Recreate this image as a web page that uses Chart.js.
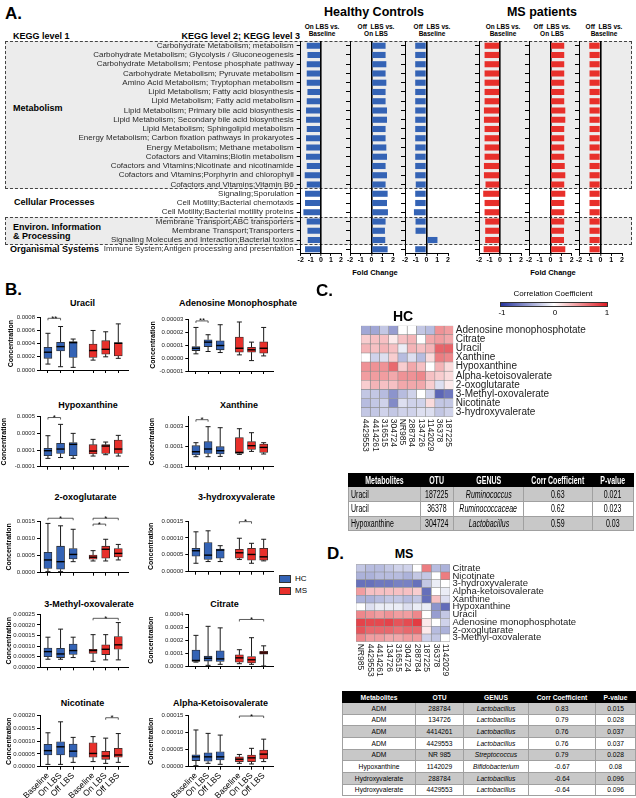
<!DOCTYPE html>
<html>
<head>
    <title>LBS: pathways, metabolites and correlations</title>
    <script src="https://cdn.jsdelivr.net/npm/chart.js"></script>
    <style>
        body { margin: 0; background: #fff; }
        #fig { position: relative; width: 636px; height: 798px; overflow: hidden;
               font-family: 'Liberation Sans', Arial, Helvetica, sans-serif; color: #000; }
        #fig > * { position: absolute; }
        .t { white-space: nowrap; line-height: 1; }
        .band { background: #ececec; border: 1px dashed #444; box-sizing: border-box; }
        .key { width: 11px; height: 6px; border: 1px solid #333; }
        .tbl { border-collapse: collapse; table-layout: fixed; }
        .tbl th, .tbl td { border: 1px solid #a0a0a0; padding: 0 2px; text-align: center; white-space: nowrap; overflow: hidden; }
        .tbl th { background: #000; color: #fff; font-weight: bold; border-color: #000; }
        .tbl tr.g td { background: #c8c8c8; }
        .tbl td.i { font-style: italic; }
        .tbl td.l { text-align: left; }
        #tblC { font-size: 10px; }
        #tblC span { display: inline-block; transform: scaleX(0.7); transform-origin: center; margin: 0 -25px; }
        #tblC td.l span { transform-origin: left; margin: 0 -25px 0 0; }
        #tblD { font-size: 6.7px; }
    </style>
</head>
<body>
<div id="fig"></div>
<script>
// ---------- panel A: KEGG fold changes ----------
const pathways = [
    'Carbohydrate Metabolism; metabolism',
    'Carbohydrate Metabolism; Glycolysis / Gluconeogenesis',
    'Carbohydrate Metabolism; Pentose phosphate pathway',
    'Carbohydrate Metabolism; Pyruvate metabolism',
    'Amino Acid Metabolism; Tryptophan metabolism',
    'Lipid Metabolism; Fatty acid biosynthesis',
    'Lipid Metabolism; Fatty acid metabolism',
    'Lipid Metabolism; Primary bile acid biosynthesis',
    'Lipid Metabolism; Secondary bile acid biosynthesis',
    'Lipid Metabolism; Sphingolipid metabolism',
    'Energy Metabolism; Carbon fixation pathways in prokaryotes',
    'Energy Metabolism; Methane metabolism',
    'Cofactors and Vitamins;Biotin metabolism',
    'Cofactors and Vitamins;Nicotinate and nicotinamide',
    'Cofactors and Vitamins;Porphyrin and chlorophyll',
    'Cofactors and Vitamins;Vitamin B6',
    'Signaling;Sporulation',
    'Cell Motility;Bacterial chemotaxis',
    'Cell Motility;Bacterial motility proteins',
    'Membrane Transport;ABC transporters',
    'Membrane Transport;Transporters',
    'Signaling Molecules and Interaction;Bacterial toxins',
    'Immune System;Antigen processing and presentation'
];
const hcOnVsBase  = [-1.40,-1.33,-1.40,-1.40,-1.40,-1.33,-1.40,-1.47,-1.47,-1.40,-1.47,-1.45,-1.47,-1.40,-1.60,-1.40,-1.57,-1.57,-1.73,-1.40,-1.33,-1.30,-1.57];
const hcOffVsOn   = [1.31,1.31,1.38,1.31,1.38,1.31,1.31,1.44,1.44,1.31,1.31,1.38,1.44,1.31,1.44,1.31,1.50,1.44,1.53,1.31,1.25,1.28,1.50];
const hcOffVsBase = [-1.05,-1.05,-1.05,-1.05,-1.05,-1.05,-1.05,-1.05,-1.05,-1.05,-1.05,-1.05,-1.05,-1.05,-1.05,-1.00,-1.05,-1.05,-1.17,-1.02,-1.02,1.02,-1.05];
const msOnVsBase  = [-1.47,-1.47,-1.47,-1.47,-1.47,-1.47,-1.47,-1.53,-1.53,-1.47,-1.47,-1.47,-1.47,-1.53,-1.53,-1.38,-1.60,-1.47,-1.47,-1.41,-1.41,-1.41,-1.56];
const msOffVsOn   = [1.30,1.30,1.30,1.30,1.30,1.30,1.30,1.40,1.40,1.30,1.30,1.30,1.30,1.35,1.40,1.30,1.40,1.30,1.30,1.30,1.28,1.28,1.40];
const msOffVsBase = [-1.05,-1.02,-1.02,-1.02,-1.02,-1.02,-1.02,-1.02,-1.02,-1.02,-1.02,-1.02,-1.02,-1.02,-1.02,-1.02,-1.02,-1.02,-1.02,-1.02,-1.02,-1.02,-1.02];
const foldTicks = [-2, -1, 0, 1, 2];

// ---------- panel B: metabolite box plots [min, q1, median, q3, max] ----------
const groupLabels = ['Baseline', 'On LBS', 'Off LBS', 'Baseline', 'On LBS', 'Off LBS'];
const uracil = [[0.00009,0.000177,0.00027,0.000344,0.000557],[0.00005,0.00029,0.000355,0.00042,0.00066],[0.00004,0.00019,0.000415,0.00043,0.00047],
                [0.00015,0.00019,0.000295,0.000395,0.0006],[0.0002,0.00024,0.000314,0.000445,0.00058],[0.000177,0.000213,0.000405,0.000415,0.0007]];
const amp = [[0.0000032,0.0000057,0.0000075,0.0000088,0.0000235],[0.000005,0.0000088,0.0000122,0.000014,0.0000179],[0.0000042,0.0000063,0.0000096,0.0000132,0.0000256],
             [0.0000024,0.0000045,0.0000075,0.0000161,0.0000277],[-0.000002,0.0000045,0.0000063,0.0000083,0.0000122],[0.0000016,0.0000037,0.0000075,0.0000125,0.0000235]];
const hypoxanthine = [[0,0.000032,0.000092,0.00012,0.000272],[0.00001,0.00006,0.000112,0.00018,0.000408],[0,0.000032,0.000168,0.00019,0.0003],
                      [0.000028,0.000052,0.000088,0.000164,0.000228],[0.000044,0.00006,0.000148,0.000164,0.000196],[0.000028,0.00006,0.000112,0.00022,0.000276]];
const xanthine = [[0,0.000017,0.00005,0.00011,0.00014],[0,0.000033,0.000077,0.00015,0.0003],[0.000003,0.000027,0.00006,0.0001,0.00029],
                  [0.000023,0.000033,0.000043,0.00019,0.00028],[0.000053,0.000073,0.00011,0.00015,0.00024],[0.000027,0.000043,0.000093,0.000127,0.00014]];
const oxoglutarate = [[0.00003,0.000126,0.00037,0.00059,0.00143],[0.00003,0.0001,0.00032,0.00077,0.00136],[0.00032,0.0004,0.00053,0.0007,0.00126],
                      [0.00034,0.00039,0.00045,0.00051,0.00064],[0.00034,0.00042,0.00068,0.00077,0.00097],[0.00037,0.00046,0.00056,0.0007,0.00082]];
const hydroxyvalerate = [[0.000025,0.000046,0.000062,0.000069,0.000118],[0.00003,0.000036,0.000049,0.000086,0.000121],[0.00003,0.00004,0.000064,0.000067,0.000077],
                         [0.000036,0.00004,0.000056,0.000066,0.000099],[0.000025,0.000034,0.000051,0.000069,0.000084],[0.000032,0.000034,0.000044,0.000069,0.000096]];
const methylOxovalerate = [[0.000038,0.00005,0.000074,0.000091,0.000142],[0.000038,0.000046,0.000063,0.00009,0.00018],[0.000046,0.000061,0.000079,0.00011,0.000142],
                           [0.000028,0.000066,0.000079,0.000085,0.000154],[0.000035,0.00006,0.000085,0.000106,0.000154],[0.000035,0.000085,0.000106,0.000145,0.000211]];
const citrate = [[0.00003,0.000035,0.000043,0.000124,0.000237],[0.000005,0.000038,0.00006,0.000076,0.000307],[0.000013,0.000035,0.000055,0.000118,0.000295],
                 [0.000018,0.00003,0.000063,0.000086,0.000126],[0.000013,0.000023,0.000048,0.000073,0.000219],[0,0.000091,0.000101,0.000113,0.000156]];
const nicotinate = [[0.000009,0.000046,0.000063,0.000088,0.000133],[0.000009,0.000046,0.000078,0.000098,0.000176],[0.000017,0.000037,0.000061,0.000089,0.000115],
                    [0.00002,0.000037,0.000052,0.000094,0.000118],[0.000013,0.000029,0.000042,0.00006,0.000112],[0.000017,0.000037,0.000046,0.000072,0.00013]];
const ketoisovalerate = [[0.000003,0.000018,0.000029,0.000035,0.000108],[0.00001,0.000016,0.000029,0.000041,0.000098],[0.000007,0.00002,0.000029,0.000044,0.000093],
                         [0.00001,0.000015,0.000022,0.000029,0.000036],[0.000008,0.000015,0.000026,0.000034,0.000054],[0.000015,0.000023,0.000037,0.000049,0.000081]];

const uracilTicks = [0, 0.0002, 0.0004, 0.0006, 0.0008];
const ampTicks = [-0.00001, 0, 0.00001, 0.00002, 0.00003];
const hypoxanthineTicks = [-0.0001, 0, 0.0001, 0.0002, 0.0003, 0.0004, 0.0005];
const xanthineTicks = [-0.0001, 0, 0.0001, 0.0002, 0.0003, 0.0004];
const oxoglutarateTicks = [0, 0.0005, 0.0010, 0.0015];
const hydroxyvalerateTicks = [0, 0.00005, 0.00010, 0.00015];
const methylOxovalerateTicks = [0, 0.00005, 0.00010, 0.00015, 0.00020, 0.00025];
const citrateTicks = [0, 0.0001, 0.0002, 0.0003, 0.0004];
const nicotinateTicks = [0, 0.00005, 0.00010, 0.00015, 0.00020];
const ketoisovalerateTicks = [0, 0.00005, 0.00010, 0.00015];

// significance brackets: [from group, to group, value, label]
const uracilSig = [[0, 1, 0.000785, '**']];
const ampSig = [[0, 1, 0.0000285, '**']];
const hypoxanthineSig = [[0, 1, 0.00049, '*']];
const xanthineSig = [[0, 1, 0.00037, '*']];
const oxoglutarateSig = [[0, 2, 0.00158, '*'], [3, 5, 0.00158, '*'], [3, 4, 0.00141, '*']];
const hydroxyvalerateSig = [[3, 4, 0.000148, '*']];
const methylOxovalerateSig = [[3, 5, 0.000231, '*']];
const citrateSig = [[3, 5, 0.00036, '*']];
const nicotinateSig = [[4, 5, 0.000192, '*']];
const ketoisovalerateSig = [[3, 5, 0.000149, '*']];

// ---------- panels C / D: correlation heatmaps ----------
const hcOtus = ['4429553','4414261','316515','304724','NR985','288784','134726','1142029','36378','187225'];
const hcMetabolites = ['Adenosine monophosphotate','Citrate','Uracil','Xanthine','Hypoxanthine','Alpha-ketoisovalerate','2-oxoglutarate','3-Methyl-oxovalerate','Nicotinate','3-hydroxyvalerate'];
const hcCorr = [
    [-0.35,-0.35,-0.2,-0.4,0.0,0.0,-0.2,-0.25,0.4,0.35],
    [0.15,0.2,0.2,0.05,0.2,0.25,0.0,0.3,0.35,0.3],
    [0.25,0.2,0.25,0.2,-0.05,0.25,0.2,0.25,0.62,0.63],
    [0.0,-0.15,-0.1,0.15,-0.25,-0.1,-0.25,0.1,0.5,0.45],
    [0.4,0.4,0.4,0.59,0.15,0.3,0.2,0.0,0.25,0.1],
    [0.35,0.35,0.35,0.3,0.4,0.4,0.45,0.2,0.15,0.1],
    [0.15,0.25,0.2,0.2,0.3,0.3,0.3,0.15,-0.1,0.05],
    [-0.2,-0.2,-0.25,-0.45,-0.25,-0.15,0.0,-0.15,-0.7,-0.6],
    [-0.25,-0.2,-0.15,-0.5,-0.1,-0.15,-0.15,0.1,-0.2,-0.2],
    [-0.2,-0.2,-0.15,-0.2,-0.15,-0.15,-0.1,-0.1,-0.2,-0.15]
];
const msOtus = ['NR985','4429553','4414261','134726','316515','304724','288784','187225','36378','1142029'];
const msMetabolites = ['Citrate','Nicotinate','3-hydroxyvalerate','Alpha-ketoisovalerate','Xanthine','Hypoxanthine','Uracil','Adenosine monophosphotate','2-oxoglutarate','3-Methyl-oxovalerate'];
const msCorr = [
    [-0.2,-0.25,-0.25,-0.2,-0.15,-0.15,0.0,0.5,-0.25,-0.3],
    [-0.3,-0.3,-0.25,-0.25,-0.25,-0.3,-0.2,-0.2,0.0,0.5],
    [-0.64,-0.64,-0.6,-0.6,-0.55,-0.55,-0.64,-0.2,-0.05,0.0],
    [0.35,0.2,0.2,0.2,0.2,0.2,0.15,-0.65,0.0,-0.05],
    [-0.3,-0.3,-0.25,-0.2,-0.2,-0.25,-0.2,-0.65,0.2,-0.1],
    [0.0,-0.1,-0.05,-0.05,-0.05,-0.1,-0.05,-0.05,-0.45,-0.67],
    [0.45,0.4,0.35,0.4,0.35,0.35,0.45,0.0,-0.4,-0.2],
    [0.79,0.76,0.76,0.79,0.7,0.75,0.83,0.05,0.0,-0.15],
    [0.7,0.6,0.6,0.6,0.55,0.6,0.6,0.05,-0.25,-0.3],
    [0.45,0.35,0.35,0.3,0.3,0.35,0.35,-0.15,-0.2,0.0]
];

const tableHeader = ['Metabolites', 'OTU', 'GENUS', 'Corr Coefficient', 'P-value'];
const hcTableRows = [
    ['Uracil', '187225', 'Ruminococcus', '0.63', '0.021'],
    ['Uracil', '36378', 'Ruminococcaceae', '0.62', '0.023'],
    ['Hypoxanthine', '304724', 'Lactobacillus', '0.59', '0.03']
];
const msTableRows = [
    ['ADM', '288784', 'Lactobacillus', '0.83', '0.015'],
    ['ADM', '134726', 'Lactobacillus', '0.79', '0.028'],
    ['ADM', '4414261', 'Lactobacillus', '0.76', '0.037'],
    ['ADM', '4429553', 'Lactobacillus', '0.76', '0.037'],
    ['ADM', 'NR 985', 'Streptococcus', '0.79', '0.028'],
    ['Hypoxanthine', '1142029', 'Bifidobacterium', '-0.67', '0.08'],
    ['Hydroxyvalerate', '288784', 'Lactobacillus', '-0.64', '0.096'],
    ['Hydroxyvalerate', '4429553', 'Lactobacillus', '-0.64', '0.096']
];

// ======================================================================
Chart.defaults.animation = false;
Chart.defaults.responsive = false;
Chart.defaults.font.family = "'Liberation Sans', Arial, Helvetica, sans-serif";
Chart.defaults.color = '#000';
Chart.defaults.plugins.legend.display = false;
Chart.defaults.plugins.tooltip.enabled = false;

const FONT = "'Liberation Sans', Arial, Helvetica, sans-serif";
const hcBlue = '#3463b5';
const msRed = '#e8302b';
const fig = document.getElementById('fig');

function addText(str, x, y, align, css) {
    const d = document.createElement('div');
    d.className = 't';
    d.textContent = str;
    const tx = align === 'c' ? '-50%' : (align === 'r' ? '-100%' : '0');
    d.style.cssText = `left:${x}px;top:${y}px;transform:translate(${tx},-50%);` + (css || '');
    fig.appendChild(d);
    return d;
}

function addBox(cls, x, y, w, h, css) {
    const d = document.createElement('div');
    d.className = cls;
    d.style.cssText = `left:${x}px;top:${y}px;width:${w}px;height:${h}px;` + (css || '');
    fig.appendChild(d);
    return d;
}

function addCanvas(x, y, w, h) {
    const c = document.createElement('canvas');
    c.width = w;
    c.height = h;
    c.style.left = x + 'px';
    c.style.top = y + 'px';
    fig.appendChild(c);
    return c;
}

// ---------------- panel A ----------------
const A_TOP = 41.1, A_BOTTOM = 253.9;
addBox('band', 5, A_TOP, 627, 189.3 - A_TOP);
addBox('band', 5, 216.8, 627, 244.7 - 216.8);

addText('A.', 5, 12.5, 'l', 'font-size:17px;font-weight:bold;');
addText('KEGG level 1', 13, 36, 'l', 'font-size:9px;font-weight:bold;');
addText('KEGG level 2; KEGG level 3', 300, 36, 'r', 'font-size:9px;font-weight:bold;');
addText('Metabolism', 13, 108, 'l', 'font-size:9px;font-weight:bold;');
addText('Cellular Processes', 14, 202, 'l', 'font-size:9px;font-weight:bold;');
addText('Environ. Information', 13, 226.5, 'l', 'font-size:9px;font-weight:bold;');
addText('& Processing', 13, 236, 'l', 'font-size:9px;font-weight:bold;');
addText('Organismal Systems', 10, 249.3, 'l', 'font-size:9px;font-weight:bold;');
addText('Healthy Controls', 374, 12.3, 'c', 'font-size:12.5px;font-weight:bold;');
addText('MS patients', 542, 12.3, 'c', 'font-size:12.5px;font-weight:bold;');
const colHeads = [[322, 'On LBS vs.', 'Baseline'], [376, 'Off  LBS vs.', 'On LBS'], [432, 'Off  LBS vs.', 'Baseline'],
                  [503, 'On LBS vs.', 'Baseline'], [552, 'Off  LBS vs.', 'On LBS'], [604, 'Off  LBS vs.', 'Baseline']];
colHeads.forEach(([x, l1, l2]) => {
    addText(l1, x, 26.7, 'c', 'font-size:6.5px;font-weight:bold;white-space:pre;');
    addText(l2, x, 34.3, 'c', 'font-size:6.5px;font-weight:bold;');
});
addText('Fold Change', 375, 273, 'c', 'font-size:7.5px;font-weight:bold;');
addText('Fold Change', 553, 273, 'c', 'font-size:7.5px;font-weight:bold;');

function foldChart(x0, x1, values, color, showLabels) {
    const top = 36, height = 232;
    const left = showLabels ? 0 : Math.floor(x0 - 10);
    const width = Math.ceil(x1 + 6 - left);
    const cv = addCanvas(left, top, width, height);
    new Chart(cv, {
        type: 'bar',
        data: {
            labels: pathways,
            datasets: [{ data: values, backgroundColor: color, barPercentage: 0.66, categoryPercentage: 1 }]
        },
        options: {
            indexAxis: 'y',
            layout: { padding: { left: 0, top: A_TOP - top, right: left + width - x1, bottom: 0 } },
            scales: {
                y: {
                    afterFit: s => { s.width = x0 - left; s.paddingTop = 0; s.paddingBottom = 0; },
                    ticks: { display: showLabels, autoSkip: false, font: { size: 8 }, color: '#2a2a2a', padding: 3 },
                    grid: { offset: false, drawOnChartArea: false, tickLength: 4, tickColor: '#000' },
                    border: { color: '#000' }
                },
                x: {
                    min: -2, max: 2,
                    afterBuildTicks: s => { s.ticks = foldTicks.map(v => ({ value: v })); },
                    afterFit: s => { s.height = top + height - A_BOTTOM; s.paddingLeft = 0; s.paddingRight = 0; },
                    ticks: { autoSkip: false, maxRotation: 0, minRotation: 0, font: { size: 7, weight: 'bold' }, padding: 0 },
                    grid: {
                        color: c => (c.tick && c.tick.value === 0) ? '#000' : 'rgba(0,0,0,0)',
                        lineWidth: c => (c.tick && c.tick.value === 0) ? 1.6 : 1,
                        tickColor: '#000', tickWidth: 1, tickLength: 2
                    },
                    border: { color: '#000' }
                }
            }
        }
    });
}

foldChart(300.7, 341, hcOnVsBase, hcBlue, true);
foldChart(350, 393, hcOffVsOn, hcBlue, false);
foldChart(405, 448, hcOffVsBase, hcBlue, false);
foldChart(479, 521, msOnVsBase, msRed, false);
foldChart(529, 571.7, msOffVsOn, msRed, false);
foldChart(579, 622, msOffVsBase, msRed, false);

// ---------------- panel B ----------------
addText('B.', 5, 288.5, 'l', 'font-size:17px;font-weight:bold;');
const boxPositions = [1, 2, 3, 4.58, 5.58, 6.58];
const boxColors = [hcBlue, hcBlue, hcBlue, msRed, msRed, msRed];

function boxPlugin(stats, sig) {
    const line = (ctx, a, b, c, d) => { ctx.beginPath(); ctx.moveTo(a, b); ctx.lineTo(c, d); ctx.stroke(); };
    return {
        id: 'boxWhiskers',
        beforeDatasetsDraw(chart) {
            const { ctx, scales: { x, y } } = chart;
            ctx.save();
            ctx.strokeStyle = '#1a1a1a';
            ctx.lineWidth = 1;
            stats.forEach((s, i) => {
                const px = x.getPixelForValue(boxPositions[i]);
                const [mn, q1, , q3, mx] = s.map(v => y.getPixelForValue(v));
                line(ctx, px, q1, px, mn);
                line(ctx, px, q3, px, mx);
                line(ctx, px - 2.5, mn, px + 2.5, mn);
                line(ctx, px - 2.5, mx, px + 2.5, mx);
            });
            ctx.restore();
        },
        afterDatasetsDraw(chart) {
            const { ctx, scales: { x, y } } = chart;
            ctx.save();
            ctx.strokeStyle = '#000';
            ctx.lineWidth = 1.4;
            stats.forEach((s, i) => {
                const px = x.getPixelForValue(boxPositions[i]);
                const md = y.getPixelForValue(s[2]);
                line(ctx, px - 4, md, px + 4, md);
            });
            ctx.lineWidth = 0.8;
            ctx.strokeStyle = '#333';
            ctx.fillStyle = '#000';
            ctx.font = '8px ' + FONT;
            ctx.textAlign = 'center';
            ctx.textBaseline = 'alphabetic';
            sig.forEach(([a, b, v, label]) => {
                const xa = x.getPixelForValue(boxPositions[a]);
                const xb = x.getPixelForValue(boxPositions[b]);
                const py = y.getPixelForValue(v);
                ctx.beginPath();
                ctx.moveTo(xa, py + 2); ctx.lineTo(xa, py); ctx.lineTo(xb, py); ctx.lineTo(xb, py + 2);
                ctx.stroke();
                ctx.fillText(label, (xa + xb) / 2, py + 2.5);
            });
            ctx.restore();
        }
    };
}

function boxChart(p) {
    const l = p.col === 0 ? 40 : 188.3;
    const r = p.col === 0 ? 128 : 273;
    const cl = Math.max(0, Math.floor(p.yt - 4.2));
    const ct = Math.floor(p.top - 10);
    const cw = Math.ceil(r + 6 - cl);
    const ch = Math.ceil(p.bottom + (p.last ? 32 : 6) - ct);
    addText(p.name, p.tx, p.ty, 'c', 'font-size:9px;font-weight:bold;');
    const cv = addCanvas(cl, ct, cw, ch);
    new Chart(cv, {
        type: 'bar',
        data: {
            datasets: [{
                data: p.stats.map((s, i) => ({ x: boxPositions[i], y: [s[1], s[3]] })),
                backgroundColor: boxColors,
                borderColor: '#2a2a2a',
                borderWidth: 0.8,
                borderSkipped: false,
                barThickness: 8
            }]
        },
        options: {
            layout: { padding: { left: 0, top: p.top - ct, right: cl + cw - r, bottom: 0 } },
            scales: {
                x: {
                    type: 'linear', offset: false,
                    min: 0.37, max: 7.35,
                    afterBuildTicks: s => { s.ticks = boxPositions.map(v => ({ value: v })); },
                    afterFit: s => { s.height = ct + ch - p.bottom; s.paddingLeft = 0; s.paddingRight = 0; },
                    ticks: {
                        callback: (v, i) => p.last ? groupLabels[i] : '',
                        minRotation: 45, maxRotation: 45, autoSkip: false,
                        font: { size: 8.5 }, padding: 1
                    },
                    grid: { offset: false, drawOnChartArea: false, tickLength: 3, tickColor: '#000' },
                    border: { color: '#000' }
                },
                y: {
                    min: p.ticks[0], max: p.ticks[p.ticks.length - 1],
                    afterBuildTicks: s => { s.ticks = p.ticks.map(v => ({ value: v })); },
                    afterFit: s => { s.width = l - cl; s.paddingTop = 0; s.paddingBottom = 0; },
                    ticks: { callback: v => v.toFixed(p.dec), font: { size: 6 }, color: '#222', padding: 2 },
                    grid: { drawOnChartArea: false, tickLength: 3, tickColor: '#000' },
                    border: { color: '#000' },
                    title: { display: true, text: 'Concentration', font: { size: 7, weight: 'bold' }, padding: 0 }
                }
            }
        },
        plugins: [boxPlugin(p.stats, p.sig)]
    });
}

const boxCharts = [
    { name: 'Uracil', stats: uracil, ticks: uracilTicks, dec: 4, sig: uracilSig, col: 0, top: 317.3, bottom: 370, tx: 82.5, ty: 303, yt: 11.7 },
    { name: 'Adenosine Monophosphate', stats: amp, ticks: ampTicks, dec: 5, sig: ampSig, col: 1, top: 319, bottom: 371, tx: 238, ty: 303, yt: 153.3 },
    { name: 'Hypoxanthine', stats: hypoxanthine, ticks: hypoxanthineTicks, dec: 4, sig: hypoxanthineSig, col: 0, top: 416.7, bottom: 466.7, tx: 88, ty: 405, yt: 4.5 },
    { name: 'Xanthine', stats: xanthine, ticks: xanthineTicks, dec: 4, sig: xanthineSig, col: 1, top: 416.7, bottom: 466.7, tx: 239, ty: 405, yt: 153 },
    { name: '2-oxoglutarate', stats: oxoglutarate, ticks: oxoglutarateTicks, dec: 4, sig: oxoglutarateSig, col: 0, top: 521, bottom: 572.7, tx: 85.5, ty: 497.3, yt: 10 },
    { name: '3-hydroxyvalerate', stats: hydroxyvalerate, ticks: hydroxyvalerateTicks, dec: 5, sig: hydroxyvalerateSig, col: 1, top: 521, bottom: 571.7, tx: 236.5, ty: 497.3, yt: 151.7 },
    { name: '3-Methyl-oxovalerate', stats: methylOxovalerate, ticks: methylOxovalerateTicks, dec: 5, sig: methylOxovalerateSig, col: 0, top: 614.3, bottom: 667.3, tx: 89, ty: 604, yt: 10 },
    { name: 'Citrate', stats: citrate, ticks: citrateTicks, dec: 4, sig: citrateSig, col: 1, top: 614.3, bottom: 666, tx: 224.5, ty: 604, yt: 151.7 },
    { name: 'Nicotinate', stats: nicotinate, ticks: nicotinateTicks, dec: 5, sig: nicotinateSig, col: 0, top: 715.7, bottom: 766.7, tx: 82.5, ty: 703.3, yt: 10, last: true },
    { name: 'Alpha-Ketoisovalerate', stats: ketoisovalerate, ticks: ketoisovalerateTicks, dec: 5, sig: ketoisovalerateSig, col: 1, top: 715.7, bottom: 766.7, tx: 220.5, ty: 703.3, yt: 151.7, last: true }
];
boxCharts.forEach(boxChart);

// legend for panel B
addBox('key', 279, 575, 10, 6, 'background:' + hcBlue + ';');
addText('HC', 295, 579, 'l', 'font-size:8px;');
addBox('key', 279, 587, 10, 6, 'background:' + msRed + ';');
addText('MS', 295, 591, 'l', 'font-size:8px;');

// ---------------- panels C and D ----------------
function corrColor(v) {
    const lo = [38, 52, 158], mid = [255, 255, 255], hi = [222, 28, 36];
    const end = v < 0 ? lo : hi;
    const t = Math.pow(Math.min(1, Math.abs(v)), 0.8);
    const c = mid.map((m, k) => Math.round(m + (end[k] - m) * t));
    return `rgb(${c.join(',')})`;
}

function colLabelPlugin(cols) {
    return {
        id: 'colLabels',
        afterDraw(chart) {
            const { ctx, scales: { x }, chartArea } = chart;
            ctx.save();
            ctx.font = '8.5px ' + FONT;
            ctx.fillStyle = '#222';
            ctx.textAlign = 'left';
            ctx.textBaseline = 'middle';
            cols.forEach((c, j) => {
                ctx.save();
                ctx.translate(x.getPixelForValue(j + 0.5), chartArea.bottom + 2);
                ctx.rotate(Math.PI / 2);
                ctx.fillText(c, 0, 0);
                ctx.restore();
            });
            ctx.restore();
        }
    };
}

function heatmap(area, cv, rows, cols, values, labelSize) {
    new Chart(cv, {
        type: 'bar',
        data: {
            labels: rows,
            datasets: cols.map((c, j) => ({
                label: c,
                data: rows.map(() => [j, j + 1]),
                backgroundColor: rows.map((r, i) => corrColor(values[i][j])),
                borderColor: '#8c8c8c',
                borderWidth: 0.6,
                borderSkipped: false,
                barPercentage: 1,
                categoryPercentage: 1,
                grouped: false
            }))
        },
        options: {
            indexAxis: 'y',
            layout: { padding: { left: area.l - area.cl, top: area.t - area.ct, right: 0, bottom: 0 } },
            scales: {
                x: {
                    min: 0, max: cols.length,
                    afterFit: s => { s.height = area.ct + area.ch - area.b; s.paddingLeft = 0; s.paddingRight = 0; },
                    ticks: { display: false },
                    grid: { display: false, drawTicks: false },
                    border: { display: false }
                },
                y: {
                    position: 'right',
                    afterFit: s => { s.width = area.cl + area.cw - area.r; s.paddingTop = 0; s.paddingBottom = 0; },
                    ticks: { autoSkip: false, font: { size: labelSize }, color: '#222', padding: 2.5 },
                    grid: { display: false, drawTicks: false },
                    border: { display: false }
                }
            }
        },
        plugins: [colLabelPlugin(cols)]
    });
}

addText('C.', 316, 290, 'l', 'font-size:17px;font-weight:bold;');
addText('Correlation Coefficient', 553, 294, 'c', 'font-size:8px;');
addBox('', 500, 301.5, 108, 5, 'border:1px solid #333;box-sizing:border-box;background:linear-gradient(to right, rgb(38,52,158), #fff 50%, rgb(222,28,36));');
addText('-1', 502, 313, 'c', 'font-size:8px;');
addText('0', 555, 313, 'c', 'font-size:8px;');
addText('1', 607, 313, 'c', 'font-size:8px;');
addText('HC', 403, 315.5, 'c', 'font-size:14px;font-weight:bold;');

const hcArea = { cl: 355, ct: 320, cw: 281, ch: 140, l: 361, r: 453.3, t: 325.7, b: 416.7 };
heatmap(hcArea, addCanvas(hcArea.cl, hcArea.ct, hcArea.cw, hcArea.ch), hcMetabolites, hcOtus, hcCorr, 10);

addText('D.', 327, 552.5, 'l', 'font-size:17px;font-weight:bold;');
addText('MS', 404, 553.5, 'c', 'font-size:12.5px;font-weight:bold;');
const msArea = { cl: 350, ct: 558, cw: 286, ch: 130, l: 356, r: 450, t: 564.3, b: 641.7 };
heatmap(msArea, addCanvas(msArea.cl, msArea.ct, msArea.cw, msArea.ch), msMetabolites, msOtus, msCorr, 9.5);

function addTable(id, x, y, widths, headH, rowH, rows, leftFirst) {
    const t = document.createElement('table');
    t.id = id;
    t.className = 'tbl';
    t.style.left = x + 'px';
    t.style.top = y + 'px';
    t.style.width = widths.reduce((a, b) => a + b, 0) + 'px';
    let html = '<colgroup>' + widths.map(w => `<col style="width:${w}px">`).join('') + '</colgroup>';
    html += `<tr style="height:${headH}px">` + tableHeader.map(h => `<th><span>${h}</span></th>`).join('') + '</tr>';
    rows.forEach((r, i) => {
        html += `<tr class="${i % 2 === 0 ? 'g' : ''}" style="height:${rowH}px">` +
            r.map((c, k) => `<td class="${k === 2 ? 'i' : ''}${k === 0 && leftFirst ? ' l' : ''}"><span>${c}</span></td>`).join('') + '</tr>';
    });
    t.innerHTML = html;
    fig.appendChild(t);
}

addTable('tblC', 348, 473, [72, 33, 70, 69, 41], 13.3, 14.7, hcTableRows, true);
addTable('tblD', 342, 691, [73, 48, 65, 67, 40], 11, 11.66, msTableRows, false);
</script>
</body>
</html>
